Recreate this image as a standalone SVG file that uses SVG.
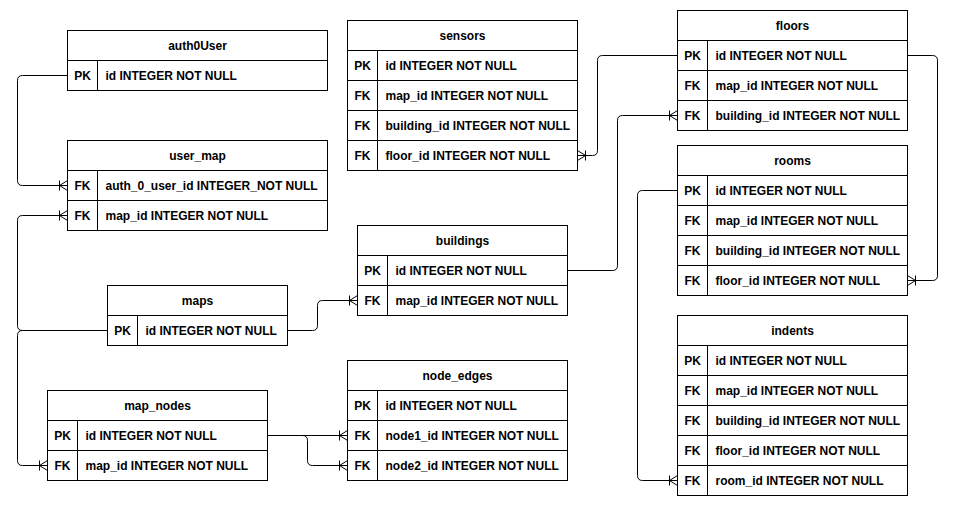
<svg xmlns="http://www.w3.org/2000/svg" width="956" height="506" viewBox="0 0 956 506">
<defs>
<style>
rect{fill:#fff;stroke:#000;stroke-width:1}
line.d{stroke:#000;stroke-width:1}
text{font-family:"Liberation Sans",Arial,sans-serif;font-size:12px;font-weight:bold;fill:#000}
.h{text-anchor:middle}
.k{text-anchor:middle}
.c{fill:none;stroke:#000;stroke-width:1}
</style>
<marker id="cf" markerUnits="userSpaceOnUse" markerWidth="20" markerHeight="20" refX="10" refY="10" orient="auto" viewBox="0 0 20 20">
<path d="M2,10 L10,5 M2,10 L10,15 M2,5 L2,15" fill="none" stroke="#000" stroke-width="1"/>
</marker>
</defs>
<rect x="0" y="0" width="956" height="506" style="fill:#fff;stroke:none"/>
<g transform="translate(0.5,0.5)">
<g id="connectors">
<path class="c" d="M67,75 H22 Q17,75 17,80 V180 Q17,185 22,185 H67" marker-end="url(#cf)"/>
<path class="c" d="M107,330 H22 Q17,330 17,325 V220 Q17,215 22,215 H67" marker-end="url(#cf)"/>
<path class="c" d="M107,330 H22 Q17,330 17,335 V460 Q17,465 22,465 H47" marker-end="url(#cf)"/>
<path class="c" d="M287,330 H312 Q317,330 317,325 V305 Q317,300 322,300 H357" marker-end="url(#cf)"/>
<path class="c" d="M267,435 H347" marker-end="url(#cf)"/>
<path class="c" d="M267,435 H302 Q307,435 307,440 V460 Q307,465 312,465 H347" marker-end="url(#cf)"/>
<path class="c" d="M567,270 H612 Q617,270 617,265 V120 Q617,115 622,115 H677" marker-end="url(#cf)"/>
<path class="c" d="M677,55 H602 Q597,55 597,60 V150 Q597,155 592,155 H577" marker-end="url(#cf)"/>
<path class="c" d="M907,55 H932 Q937,55 937,60 V275 Q937,280 932,280 H907" marker-end="url(#cf)"/>
<path class="c" d="M677,190 H642 Q637,190 637,195 V475 Q637,480 642,480 H677" marker-end="url(#cf)"/>
</g>

<g id="auth0User">
<rect x="67" y="30" width="260" height="30"/>
<rect x="67" y="60" width="260" height="30"/>
<line class="d" x1="97" y1="60" x2="97" y2="90"/>
<text class="h" x="197" y="49">auth0User</text>
<text class="k" x="82" y="79">PK</text><text x="105" y="79">id INTEGER NOT NULL</text>
</g>

<g id="user_map">
<rect x="67" y="140" width="260" height="30"/>
<rect x="67" y="170" width="260" height="30"/>
<rect x="67" y="200" width="260" height="30"/>
<line class="d" x1="97" y1="170" x2="97" y2="230"/>
<text class="h" x="197" y="159">user_map</text>
<text class="k" x="82" y="189">FK</text><text x="105" y="189">auth_0_user_id INTEGER_NOT NULL</text>
<text class="k" x="82" y="219">FK</text><text x="105" y="219">map_id INTEGER NOT NULL</text>
</g>

<g id="sensors">
<rect x="347" y="20" width="230" height="30"/>
<rect x="347" y="50" width="230" height="30"/>
<rect x="347" y="80" width="230" height="30"/>
<rect x="347" y="110" width="230" height="30"/>
<rect x="347" y="140" width="230" height="30"/>
<line class="d" x1="377" y1="50" x2="377" y2="170"/>
<text class="h" x="462" y="39">sensors</text>
<text class="k" x="362" y="69">PK</text><text x="385" y="69">id INTEGER NOT NULL</text>
<text class="k" x="362" y="99">FK</text><text x="385" y="99">map_id INTEGER NOT NULL</text>
<text class="k" x="362" y="129">FK</text><text x="385" y="129">building_id INTEGER NOT NULL</text>
<text class="k" x="362" y="159">FK</text><text x="385" y="159">floor_id INTEGER NOT NULL</text>
</g>

<g id="floors">
<rect x="677" y="10" width="230" height="30"/>
<rect x="677" y="40" width="230" height="30"/>
<rect x="677" y="70" width="230" height="30"/>
<rect x="677" y="100" width="230" height="30"/>
<line class="d" x1="707" y1="40" x2="707" y2="130"/>
<text class="h" x="792" y="29">floors</text>
<text class="k" x="692" y="59">PK</text><text x="715" y="59">id INTEGER NOT NULL</text>
<text class="k" x="692" y="89">FK</text><text x="715" y="89">map_id INTEGER NOT NULL</text>
<text class="k" x="692" y="119">FK</text><text x="715" y="119">building_id INTEGER NOT NULL</text>
</g>

<g id="rooms">
<rect x="677" y="145" width="230" height="30"/>
<rect x="677" y="175" width="230" height="30"/>
<rect x="677" y="205" width="230" height="30"/>
<rect x="677" y="235" width="230" height="30"/>
<rect x="677" y="265" width="230" height="30"/>
<line class="d" x1="707" y1="175" x2="707" y2="295"/>
<text class="h" x="792" y="164">rooms</text>
<text class="k" x="692" y="194">PK</text><text x="715" y="194">id INTEGER NOT NULL</text>
<text class="k" x="692" y="224">FK</text><text x="715" y="224">map_id INTEGER NOT NULL</text>
<text class="k" x="692" y="254">FK</text><text x="715" y="254">building_id INTEGER NOT NULL</text>
<text class="k" x="692" y="284">FK</text><text x="715" y="284">floor_id INTEGER NOT NULL</text>
</g>

<g id="buildings">
<rect x="357" y="225" width="210" height="30"/>
<rect x="357" y="255" width="210" height="30"/>
<rect x="357" y="285" width="210" height="30"/>
<line class="d" x1="387" y1="255" x2="387" y2="315"/>
<text class="h" x="462" y="244">buildings</text>
<text class="k" x="372" y="274">PK</text><text x="395" y="274">id INTEGER NOT NULL</text>
<text class="k" x="372" y="304">FK</text><text x="395" y="304">map_id INTEGER NOT NULL</text>
</g>

<g id="maps">
<rect x="107" y="285" width="180" height="30"/>
<rect x="107" y="315" width="180" height="30"/>
<line class="d" x1="137" y1="315" x2="137" y2="345"/>
<text class="h" x="197" y="304">maps</text>
<text class="k" x="122" y="334">PK</text><text x="145" y="334">id INTEGER NOT NULL</text>
</g>

<g id="node_edges">
<rect x="347" y="360" width="220" height="30"/>
<rect x="347" y="390" width="220" height="30"/>
<rect x="347" y="420" width="220" height="30"/>
<rect x="347" y="450" width="220" height="30"/>
<line class="d" x1="377" y1="390" x2="377" y2="480"/>
<text class="h" x="457" y="379">node_edges</text>
<text class="k" x="362" y="409">PK</text><text x="385" y="409">id INTEGER NOT NULL</text>
<text class="k" x="362" y="439">FK</text><text x="385" y="439">node1_id INTEGER NOT NULL</text>
<text class="k" x="362" y="469">FK</text><text x="385" y="469">node2_id INTEGER NOT NULL</text>
</g>

<g id="map_nodes">
<rect x="47" y="390" width="220" height="30"/>
<rect x="47" y="420" width="220" height="30"/>
<rect x="47" y="450" width="220" height="30"/>
<line class="d" x1="77" y1="420" x2="77" y2="480"/>
<text class="h" x="157" y="409">map_nodes</text>
<text class="k" x="62" y="439">PK</text><text x="85" y="439">id INTEGER NOT NULL</text>
<text class="k" x="62" y="469">FK</text><text x="85" y="469">map_id INTEGER NOT NULL</text>
</g>

<g id="indents">
<rect x="677" y="315" width="230" height="30"/>
<rect x="677" y="345" width="230" height="30"/>
<rect x="677" y="375" width="230" height="30"/>
<rect x="677" y="405" width="230" height="30"/>
<rect x="677" y="435" width="230" height="30"/>
<rect x="677" y="465" width="230" height="30"/>
<line class="d" x1="707" y1="345" x2="707" y2="495"/>
<text class="h" x="792" y="334">indents</text>
<text class="k" x="692" y="364">PK</text><text x="715" y="364">id INTEGER NOT NULL</text>
<text class="k" x="692" y="394">FK</text><text x="715" y="394">map_id INTEGER NOT NULL</text>
<text class="k" x="692" y="424">FK</text><text x="715" y="424">building_id INTEGER NOT NULL</text>
<text class="k" x="692" y="454">FK</text><text x="715" y="454">floor_id INTEGER NOT NULL</text>
<text class="k" x="692" y="484">FK</text><text x="715" y="484">room_id INTEGER NOT NULL</text>
</g>
</g>
</svg>
